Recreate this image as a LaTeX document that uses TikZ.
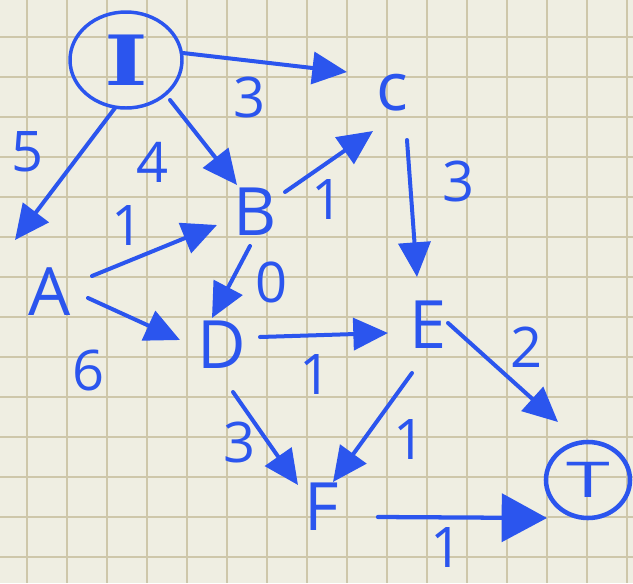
\documentclass[tikz,border=0pt]{standalone}
\usepackage{fontspec}
\setmainfont{Open Sans}
\newfontfamily\slabfont{DejaVu Serif}
\usetikzlibrary{arrows.meta,shapes.geometric}
\definecolor{paper}{HTML}{EFEEE2}
\definecolor{gridc}{HTML}{CEC7AA}
\definecolor{ink}{HTML}{2B55EE}
\begin{document}
\begin{tikzpicture}[x=0.75pt,y=-0.75pt,
  letter/.style={text=ink,font=\fontsize{50}{50}\selectfont,inner sep=0pt},
  wlabel/.style={text=ink,font=\fontsize{42}{42}\selectfont,inner sep=0pt},
  ring/.style={ellipse,draw=ink,line width=2.6pt,inner sep=0pt},
  edge/.style={draw=ink,line width=3pt,line cap=round,-{Triangle[length=26pt,width=24pt]}},
  bigedge/.style={draw=ink,line width=3.2pt,line cap=round,-{Triangle[length=34pt,width=36pt]}}]
\useasboundingbox (0,0) rectangle (633,583);
\fill[paper] (0,0) rectangle (633,583);
\foreach \gx in {27,67,...,627} \draw[gridc,line width=1.5pt] (\gx,0) -- (\gx,583);
\foreach \gy in {37,77,...,557} \draw[gridc,line width=1.5pt] (0,\gy) -- (633,\gy);
% nodes
\node[ring,minimum width=84pt,minimum height=72pt,text=ink] (I) at (126,60)
  {\slabfont\bfseries\fontsize{52}{52}\selectfont\scalebox{1.35}[1]{I}};
\node[letter] (C) at (392,93) {c};
\node[letter] (A) at (50,292) {A};
\node[letter] (B) at (255,212) {B};
\node[letter] (D) at (222,345) {D};
\node[letter] (E) at (428,325) {E};
\node[letter] (F) at (322,507) {F};
\node[ring,line width=3.4pt,minimum width=63pt,minimum height=57pt,text=ink] (T) at (588,480)
  {\fontsize{37}{37}\selectfont\scalebox{1.6}[1]{T}};
% edges
\draw[edge] ([shift={(57,-7)}]I.center) -- ([shift={(-45,-21)}]C.center);
\draw[edge] ([shift={(-11,48)}]I.center) -- ([shift={(-35,-52)}]A.center);
\draw[edge] ([shift={(44,40)}]I.center) -- ([shift={(-18,-27)}]B.center);
\draw[edge] ([shift={(42,-16)}]A.center) -- ([shift={(-38,13)}]B.center);
\draw[edge] ([shift={(30,-20)}]B.center) -- ([shift={(-19,38)}]C.center);
\draw[edge] ([shift={(15,47)}]C.center) -- ([shift={(-11,-48)}]E.center);
\draw[edge] ([shift={(-5,34)}]B.center) -- ([shift={(-10,-27)}]D.center);
\draw[edge] ([shift={(38,6)}]A.center) -- ([shift={(-42,-5)}]D.center);
\draw[edge] ([shift={(38,-8)}]D.center) -- ([shift={(-40,8)}]E.center);
\draw[edge] ([shift={(20,-2)}]E.center) -- ([shift={(-30,-58)}]T.center);
\draw[edge] ([shift={(-16,48)}]E.center) -- ([shift={(11,-25)}]F.center);
\draw[edge] ([shift={(11,47)}]D.center) -- ([shift={(-24,-22)}]F.center);
\draw[bigedge] ([shift={(56,10)}]F.center) -- ([shift={(-41,38)}]T.center);
% weights
\node[wlabel] (wIC) at (250,97) {3};
\node[wlabel] (wIA) at (28,152) {5};
\node[wlabel] (wIB) at (153,162) {4};
\node[wlabel] (wAB) at (128,226) {1};
\node[wlabel] (wBC) at (328,200) {1};
\node[wlabel] (wCE) at (459,181) {3};
\node[wlabel] (wBD) at (272,282) {0};
\node[wlabel] (wAD) at (89,370) {6};
\node[wlabel] (wDE) at (316,375) {1};
\node[wlabel] (wET) at (527,347) {2};
\node[wlabel] (wEF) at (410,440) {1};
\node[wlabel] (wDF) at (240,442) {3};
\node[wlabel] (wFT) at (447,548) {1};
\end{tikzpicture}
\end{document}
